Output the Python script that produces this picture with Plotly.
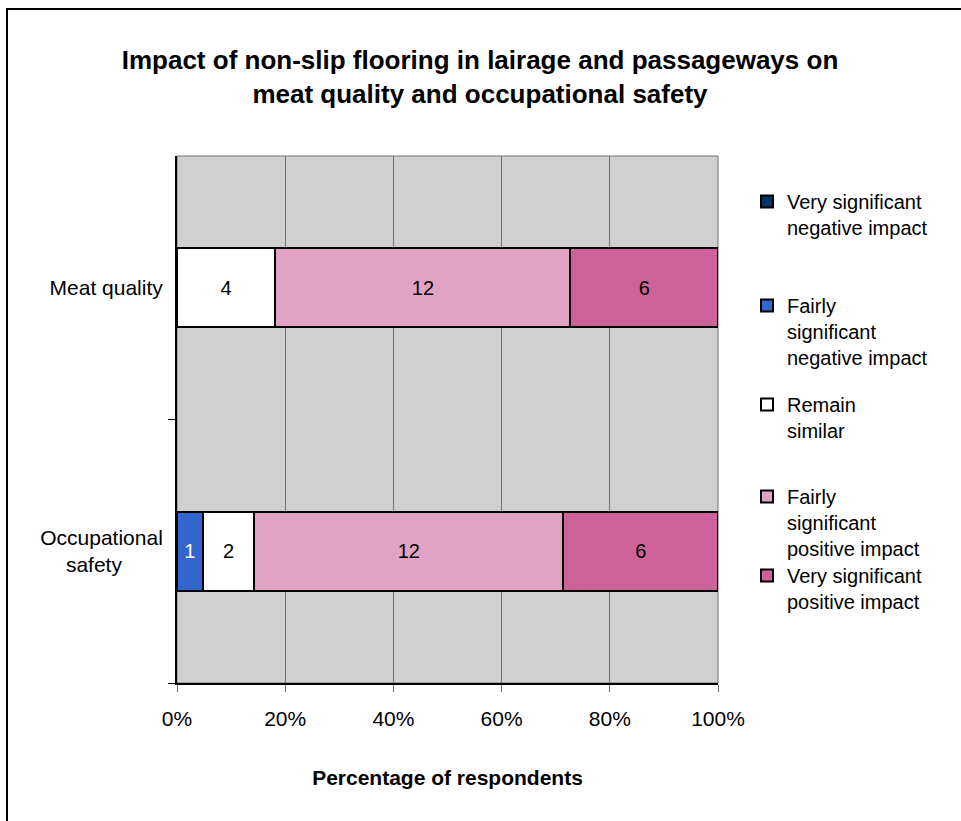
import plotly.graph_objects as go

categories = ["Meat quality", "Occupational safety"]
category_labels = ["Meat quality", "Occupational<br>safety&nbsp;&nbsp;&nbsp;&nbsp;&nbsp;&nbsp;&nbsp;"]
series_names = [
    "Very significant<br>negative impact",
    "Fairly<br>significant<br>negative impact",
    "Remain<br>similar",
    "Fairly<br>significant<br>positive impact",
    "Very significant<br>positive impact",
]
very_neg = [0, 0]
fairly_neg = [0, 1]
remain = [4, 2]
fairly_pos = [12, 12]
very_pos = [6, 6]
series_values = [very_neg, fairly_neg, remain, fairly_pos, very_pos]
colors = ["#003366", "#3366CC", "#FFFFFF", "#E1A3C4", "#CC6299"]
text_colors = ["white", "white", "black", "black", "black"]
x_ticks = [0, 20, 40, 60, 80, 100]
x_tick_labels = ["0%", "20%", "40%", "60%", "80%", "100%"]

W, H = 961, 821
legend_first_line_y = [202, 306, 405, 497, 576]

FONT = "Liberation Sans, Arial, sans-serif"

fig = go.Figure()
for i, (name, vals) in enumerate(zip(series_names, series_values)):
    fig.add_trace(go.Bar(
        y=categories,
        x=vals,
        name=name,
        orientation="h",
        marker=dict(color=colors[i], line=dict(color="black", width=2)),
        text=[str(v) if v else "" for v in vals],
        textposition="inside",
        insidetextanchor="middle",
        textangle=0,
        textfont=dict(size=20, color=text_colors[i], family=FONT),
        constraintext="none",
        legend="legend" if i == 0 else f"legend{i+1}",
    ))

legend_common = dict(
    xref="container", yref="container",
    x=747 / W, xanchor="left", yanchor="top",
    font=dict(size=20, family=FONT, color="black"),
    bgcolor="rgba(0,0,0,0)", borderwidth=0, valign="top",
    itemwidth=30,
)
layout_legends = {}
for i, yy in enumerate(legend_first_line_y):
    key = "legend" if i == 0 else f"legend{i+1}"
    layout_legends[key] = dict(legend_common, y=1 - (yy - 20) / H)

fig.update_layout(
    width=W, height=H,
    barmode="stack", barnorm="percent", bargap=0.7,
    paper_bgcolor="white", plot_bgcolor="#D0D0D0",
    margin=dict(l=177, r=W - 718, t=156, b=H - 683, autoexpand=False),
    font=dict(family=FONT, size=20, color="black"),
    title=dict(
        text="<b>Impact of non-slip flooring in lairage and passageways on<br>meat quality and occupational safety</b>",
        x=480 / W, xanchor="center", xref="container",
        y=1 - 69 / H, yanchor="top", yref="container",
        font=dict(size=26, family=FONT, color="black"),
    ),
    xaxis=dict(
        range=[0, 100], tickvals=x_ticks, ticktext=x_tick_labels,
        showgrid=True, gridcolor="#707070", gridwidth=1,
        showline=True, linecolor="black", linewidth=2,
        ticks="outside", ticklen=7, tickcolor="#707070", tickwidth=1,
        zeroline=False, ticklabelstandoff=9,
        title=dict(text="<b>Percentage of respondents</b>", standoff=41,
                   font=dict(size=21, family=FONT)),
        tickfont=dict(size=21, family=FONT),
        fixedrange=True,
    ),
    yaxis=dict(
        categoryorder="array", categoryarray=categories[::-1],
        tickvals=categories, ticktext=category_labels,
        tickson="boundaries", ticks="outside", ticklen=7,
        tickcolor="black", tickwidth=1,
        showgrid=False, showline=True, linecolor="black", linewidth=2,
        tickfont=dict(size=21, family=FONT),
        ticklabelstandoff=8,
        fixedrange=True,
    ),
    showlegend=True,
    **layout_legends,
)

# plot-area frame (grey top/right edges) and outer chart border
fig.add_shape(type="rect", xref="paper", yref="paper", x0=0, x1=1, y0=0, y1=1,
              line=dict(color="#707070", width=1), layer="below")
px_w, px_h = 718 - 177, 683 - 156
fig.add_shape(type="rect", xref="paper", yref="paper",
              x0=(7 - 177) / px_w, x1=(980 - 177) / px_w,
              y0=(683 - 840) / px_h, y1=(683 - 9) / px_h,
              line=dict(color="black", width=2), fillcolor="rgba(0,0,0,0)")

fig.write_html("out.html", config={"displayModeBar": False},
               post_script="document.body.style.margin='0';")
